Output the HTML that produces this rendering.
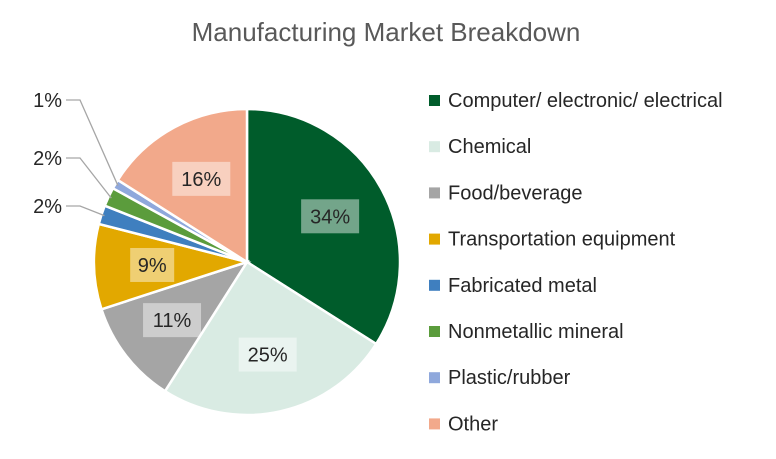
<!DOCTYPE html>
<html><head><meta charset="utf-8"><style>
body{margin:0;background:#fff;font-family:"Liberation Sans",sans-serif}
</style></head><body>
<svg id="chart" width="776" height="454" viewBox="0 0 776 454" xmlns="http://www.w3.org/2000/svg">
<text x="386" y="41" text-anchor="middle" font-size="26" fill="#595959" font-family="Liberation Sans, sans-serif">Manufacturing Market Breakdown</text>
<g id="slices"></g><g id="labels"></g><g id="legend"></g>
</svg>
<script>
const categories=["Computer/ electronic/ electrical","Chemical","Food/beverage","Transportation equipment","Fabricated metal","Nonmetallic mineral","Plastic/rubber","Other"];
const values=[34,25,11,9,2,2,1,16];
const colors=["#005c2b","#d9ebe3","#a5a5a5","#e2a800","#3f7fbf","#5b9c3c","#8fa8dc","#f2a98b"];
const NS="http://www.w3.org/2000/svg";
const cx=247,cy=262,r=153;
const total=values.reduce((a,b)=>a+b,0);
const sl=document.getElementById('slices'),lb=document.getElementById('labels'),lg=document.getElementById('legend');
function pt(a,rr){return [cx+rr*Math.sin(a),cy-rr*Math.cos(a)];}
function mk(t,attrs,p){const e=document.createElementNS(NS,t);for(const k in attrs)e.setAttribute(k,attrs[k]);p.appendChild(e);return e;}
let acc=0;let outIdx=0;
const outY=[206,158,100];
values.forEach((v,i)=>{
  const a0=acc/total*2*Math.PI,a1=(acc+v)/total*2*Math.PI;acc+=v;
  const p0=pt(a0,r),p1=pt(a1,r);const large=(a1-a0)>Math.PI?1:0;
  const path=mk('path',{d:`M${cx},${cy} L${p0[0]},${p0[1]} A${r},${r} 0 ${large} 1 ${p1[0]},${p1[1]} Z`,fill:colors[i],stroke:'#fff','stroke-width':2.5},sl);
  
  
  const am=(a0+a1)/2;const txt=v+'%';
  if(v>=5){
    const c=pt(am,r*0.62);
    const w=txt.length>2?58:44;
    const rect=mk('rect',{x:c[0]-w/2,y:c[1]-17,width:w,height:34,fill:'#fff','fill-opacity':0.45},lb);
    
    
    const t=mk('text',{x:c[0],y:c[1]+7,'text-anchor':'middle','font-size':20,fill:'#262626'},lb);
    t.textContent=txt;
    
    
  } else {
    const e=pt(am,r*0.98);const y=outY[outIdx++];
    const ln=mk('polyline',{points:`66,${y} 80,${y} ${e[0]},${e[1]}`,fill:'none',stroke:'#a6a6a6','stroke-width':1.3},lb);
    
    
    const t=mk('text',{x:62,y:y+7,'text-anchor':'end','font-size':20,fill:'#262626'},lb);
    t.textContent=txt;
    
    
  }
});
categories.forEach((c,i)=>{
  const y=100+i*46.2;
  const g=mk('g',{},lg);
  
  
  const s=mk('rect',{x:429,y:y-5,width:11,height:11,fill:colors[i]},g);
  
  
  const t=mk('text',{x:448,y:y+7,'font-size':20,fill:'#262626'},g);
  t.textContent=c;
  
  
});
</script>
</body></html>
